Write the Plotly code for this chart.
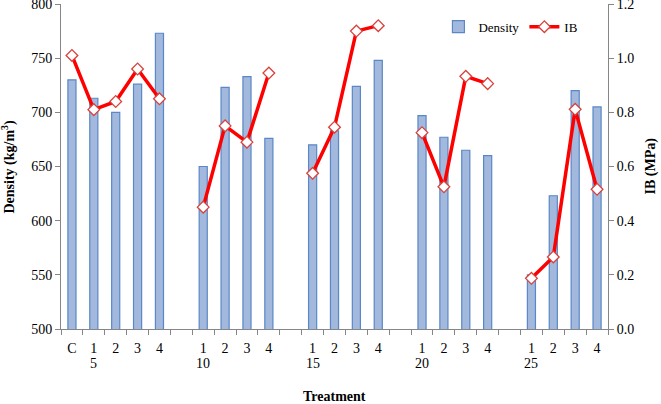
import plotly.graph_objects as go

# Data
numbers = ["C", "1", "2", "3", "4", "", "1", "2", "3", "4", "", "1", "2", "3", "4",
           "", "1", "2", "3", "4", "", "1", "2", "3", "4"]
groups = ["", "5", "", "", "", "", "10", "", "", "", "", "15", "", "", "",
          "", "20", "", "", "", "", "25", "", "", ""]
density = [730, 713, 700, 726, 773, None, 650, 723, 733, 676, None, 670, 683, 724, 748,
           None, 697, 677, 665, 660, None, 550, 623, 720, 705]
ib = [1.01, 0.81, 0.84, 0.96, 0.85, None, 0.45, 0.75, 0.69, 0.945, None, 0.575, 0.745, 1.10, 1.12,
      None, 0.725, 0.525, 0.933, 0.906, None, 0.187, 0.266, 0.811, 0.516]
left_ticks = [500, 550, 600, 650, 700, 750, 800]
right_ticks = [0, 0.2, 0.4, 0.6, 0.8, 1.0, 1.2]
right_ticktext = ["0.0", "0.2", "0.4", "0.6", "0.8", "1.0", "1.2"]

xs = list(range(len(numbers)))
boundaries = [i - 0.5 for i in range(len(numbers) + 1)]

FONT = "Liberation Serif"
AX = "#868686"
PLOT_H = 325.0

def f(size):
    return dict(family=FONT, size=size, color="black")

fig = go.Figure()
fig.add_trace(go.Bar(
    x=xs, y=density, name="Density", width=0.37,
    marker=dict(color="#A2B8DC", line=dict(color="#5A88C6", width=1.2)),
    xaxis="x", yaxis="y",
))
fig.add_trace(go.Scatter(
    x=xs, y=ib, name="IB", mode="lines+markers", connectgaps=False,
    line=dict(color="#FF0000", width=3.5),
    marker=dict(symbol="diamond", size=9, color="white", line=dict(color="#D9413C", width=1.3)),
    xaxis="x", yaxis="y2",
))
# dummy trace so xaxis2 (boundary tick marks) is drawn
fig.add_trace(go.Scatter(x=[None], y=[None], xaxis="x2", yaxis="y", showlegend=False, hoverinfo="skip"))

annotations = []
for x, g in zip(xs, groups):
    if g:
        annotations.append(dict(x=x, y=-(363 - 329) / PLOT_H, xref="x", yref="paper",
                                text=g, showarrow=False, font=f(14),
                                xanchor="center", yanchor="middle"))
annotations.append(dict(x=0.5, y=-(397 - 329) / PLOT_H, xref="paper", yref="paper",
                        text="<b>Treatment</b>", showarrow=False, font=f(14),
                        xanchor="center", yanchor="middle"))
annotations.append(dict(x=-(61 - 9) / 547.0, y=0.5, xref="paper", yref="paper",
                        text="<b>Density (kg/m<sup>3</sup>)</b>", showarrow=False, font=f(14),
                        textangle=-90, xanchor="center", yanchor="middle"))
annotations.append(dict(x=1 + (650 - 608) / 547.0, y=0.5, xref="paper", yref="paper",
                        text="<b>IB (MPa)</b>", showarrow=False, font=f(14),
                        textangle=-90, xanchor="center", yanchor="middle"))

fig.update_layout(
    width=661, height=404,
    margin=dict(l=61, r=53, t=4, b=75, autoexpand=False),
    paper_bgcolor="white", plot_bgcolor="white",
    font=f(14),
    showlegend=True,
    legend=dict(orientation="h", x=0.69, y=0.93, xanchor="left", yanchor="middle",
                bgcolor="rgba(0,0,0,0)", font=f(13), itemwidth=30,
                tracegroupgap=0),
    annotations=annotations,
    xaxis=dict(
        range=[-0.5, len(numbers) - 0.5],
        tickmode="array", tickvals=xs, ticktext=numbers,
        ticks="", showline=True, linecolor=AX, linewidth=1, ticklabelstandoff=6,
        showgrid=False, zeroline=False, tickfont=f(14),
    ),
    xaxis2=dict(
        overlaying="x", matches="x", anchor="y", side="bottom",
        range=[-0.5, len(numbers) - 0.5],
        tickmode="array", tickvals=boundaries, ticktext=[""] * len(boundaries),
        ticks="outside", ticklen=5, tickcolor=AX, showticklabels=False,
        showline=False, showgrid=False, zeroline=False,
    ),
    yaxis=dict(
        range=[500, 800.01], tickmode="array", tickvals=left_ticks,
        ticks="outside", ticklen=5, tickcolor=AX, showline=True, linecolor=AX,
        showgrid=False, zeroline=False, tickfont=f(14), ticklabeloverflow="allow",
    ),
    yaxis2=dict(
        range=[0, 1.20001], overlaying="y", side="right", anchor="x",
        tickmode="array", tickvals=right_ticks, ticktext=right_ticktext,
        ticks="outside", ticklen=5, tickcolor=AX, showline=True, linecolor=AX,
        showgrid=False, zeroline=False, tickfont=f(14), ticklabeloverflow="allow",
    ),
)

fig.write_html("out.html", config={"displayModeBar": False},
               post_script="document.body.style.margin='0';")
